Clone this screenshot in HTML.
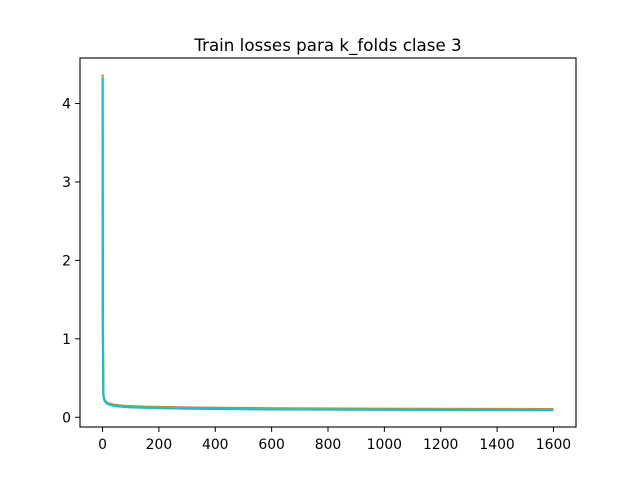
<!DOCTYPE html>
<html><head><meta charset="utf-8"><style>
body{margin:0;background:#fff;}
svg{display:block;font-family:"DejaVu Sans","Liberation Sans",sans-serif;}
</style></head><body>
<svg id="chart" width="640" height="480">
<text x="328" y="51" text-anchor="middle" font-size="16.7">Train losses para k_folds clase 3</text>
<g id="series"></g>
<rect x="80" y="58" width="496" height="369" fill="none" stroke="#000" stroke-width="1.1"/>
<g id="axes"></g>
</svg>
<script>
const epochs = [0,1,2,3,5,8,12,20,40,80,150,300,600,1000,1600];
const fold1 = [4.37,1.25,0.75,0.30,0.25,0.22,0.20,0.18,0.16,0.145,0.135,0.125,0.115,0.11,0.105];
const fold2 = [4.36,1.22,0.72,0.29,0.24,0.215,0.195,0.175,0.155,0.14,0.13,0.12,0.11,0.105,0.10];
const fold3 = [4.35,1.20,0.70,0.28,0.24,0.21,0.19,0.17,0.15,0.135,0.125,0.115,0.105,0.10,0.095];
const fold4 = [4.33,1.18,0.68,0.28,0.23,0.205,0.185,0.165,0.145,0.13,0.12,0.11,0.10,0.095,0.09];
const seriesList = [fold1, fold2, fold3, fold4];
const colors = ["#ff7f0e","#7f7f7f","#bcbd22","#17becf"];
const xTicks = [0,200,400,600,800,1000,1200,1400,1600];
const yTicks = [0,1,2,3,4];
const NS="http://www.w3.org/2000/svg";
const X0=80,X1=576,Y0=58,Y1=427;
const xmin=-80,xmax=1680,ymin=-0.124,ymax=4.58;
const sx=v=>X0+(v-xmin)/(xmax-xmin)*(X1-X0);
const sy=v=>Y1-(v-ymin)/(ymax-ymin)*(Y1-Y0);
const sg=document.getElementById('series');
seriesList.forEach((s,i)=>{
  const p=document.createElementNS(NS,'path');
  p.setAttribute('d',s.map((v,j)=>(j?'L':'M')+sx(epochs[j]).toFixed(2)+','+sy(v).toFixed(2)).join(''));
  p.setAttribute('fill','none');p.setAttribute('stroke',colors[i]);p.setAttribute('stroke-width','2.1');
  p.setAttribute('stroke-linejoin','round');
  
  
  sg.appendChild(p);
});
const ax=document.getElementById('axes');
xTicks.forEach(t=>{
  const l=document.createElementNS(NS,'line');
  l.setAttribute('x1',sx(t));l.setAttribute('x2',sx(t));l.setAttribute('y1',Y1);l.setAttribute('y2',Y1+4.9);l.setAttribute('stroke','#000');
  
  
  ax.appendChild(l);
  const tx=document.createElementNS(NS,'text');
  tx.setAttribute('x',sx(t));tx.setAttribute('y',Y1+22);tx.setAttribute('text-anchor','middle');tx.setAttribute('font-size','13.9');
  tx.textContent=t;
  
  
  ax.appendChild(tx);
});
yTicks.forEach(t=>{
  const l=document.createElementNS(NS,'line');
  l.setAttribute('x1',X0-4.9);l.setAttribute('x2',X0);l.setAttribute('y1',sy(t));l.setAttribute('y2',sy(t));l.setAttribute('stroke','#000');
  
  
  ax.appendChild(l);
  const tx=document.createElementNS(NS,'text');
  tx.setAttribute('x',X0-9);tx.setAttribute('y',sy(t)+5);tx.setAttribute('text-anchor','end');tx.setAttribute('font-size','13.9');
  tx.textContent=t;
  
  
  ax.appendChild(tx);
});
</script>
</body></html>
